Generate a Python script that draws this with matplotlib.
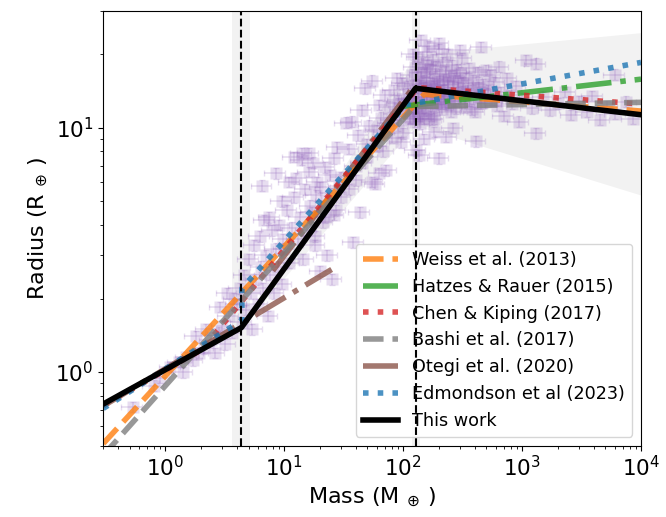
import matplotlib
matplotlib.use("Agg")
import matplotlib.pyplot as plt
import numpy as np

obs_mass = [0.53, 0.8, 0.9, 1.1, 1.3, 1.4, 1.5, 1.7, 1.8, 1.9, 2.1, 2.2, 2.4, 2.6, 2.8, 2.9,
            3.0, 3.2, 3.3, 3.4, 3.6, 3.8,
            4.0, 4.2, 4.4, 4.6, 4.8, 5.0, 5.2, 5.4, 5.6, 5.8, 6.0, 6.2, 6.4, 6.5, 6.6, 6.8,
            7.0, 7.3, 7.5, 7.6, 7.9, 8.2, 8.5, 8.5, 8.8, 9.1, 9.5, 9.5, 9.8,
            10, 10.5, 11, 11, 11.5, 12, 12, 12.6, 13, 13.5, 14, 14, 14.5, 15, 15.5, 16, 16,
            16.5, 17, 17.5, 18, 18.5, 19, 20, 20, 21, 22, 22.5, 23, 24, 25, 25, 26, 27, 28, 29,
            30, 33, 35, 37, 38, 40, 42, 43, 45, 48, 50, 52, 55, 55, 58, 60, 62, 63, 65, 68,
            70, 72, 75, 78, 80, 83, 85, 88, 90, 92, 95, 98, 100,
            105, 110, 115, 118, 120, 122, 125, 128, 130, 132, 135, 138, 140, 142, 145, 148,
            150, 152, 155, 158, 160, 163, 165, 168, 170, 173, 175, 178, 180, 183, 186, 190,
            193, 196, 200, 204, 208, 212, 216, 220, 225, 230, 235, 240, 245, 250, 256, 262,
            268, 275, 282, 290, 298, 305, 312, 320, 330, 340, 350, 360, 372, 385, 398, 410,
            412, 425, 440, 455, 470, 485, 500, 520, 540, 560, 585, 610, 640, 670, 700, 740,
            780, 830, 880, 940, 1000,
            140, 200, 165, 300, 120, 136, 128, 150, 180, 200, 260, 230,
            1080, 1300, 1300, 1200, 1500, 1700, 2000, 2300, 2600, 3000, 3500, 3900, 4500,
            5200, 6000, 6100, 7500, 8500,
            110, 125, 140, 160, 175, 190, 210, 240, 270, 310, 150, 135, 115, 100, 90, 80,
            70, 60, 50, 45, 40, 35, 30, 26, 22, 18,
            130, 145, 155, 170, 185, 200, 220, 245, 280, 330, 380, 450, 520, 600, 140, 160,
            180, 210, 250, 290, 360, 430, 125, 118, 112]
obs_radius = [0.72, 0.88, 0.95, 1.05, 1.1, 1.0, 1.15, 1.12, 1.4, 1.2, 1.25, 1.5, 1.35, 1.2, 1.45, 1.85,
              1.55, 1.3, 2.1, 1.7, 1.45, 2.0,
              1.9, 2.2, 1.6, 2.5, 1.8, 2.9, 2.1, 1.5, 3.3, 2.4, 1.9, 3.6, 2.7, 5.8, 2.2, 4.2,
              3.0, 1.7, 4.3, 2.5, 3.8, 2.1, 3.2, 6.5, 2.7, 4.0, 2.3, 5.0, 3.5,
              3.2, 4.6, 2.8, 6.0, 3.9, 5.2, 7.6, 6.2, 3.5, 4.3, 7.9, 7.4, 2.9, 5.6, 3.8, 6.6, 7.9,
              4.8, 4.5, 7.2, 3.3, 5.3, 6.0, 5.7, 2.6, 4.1, 6.9, 5.0, 3.0, 6.4, 5.4, 2.4, 7.5, 4.6, 8.3, 5.8,
              6.3, 10.5, 8.2, 10.6, 3.4, 7.0, 9.3, 4.5, 11.8, 14.5, 8.6, 10.2, 15.6, 6.0, 5.9, 9.8, 12.4, 6.5, 11.0, 8.0,
              13.6, 6.7, 10.5, 12.2, 9.1, 14.3, 11.4, 16.0, 10.2, 13.0, 8.7, 15.2, 11.7,
              12.5, 14.8, 10.9, 16.5, 13.2, 11.8, 17.8, 15.1, 12.2, 19.5, 13.9, 10.4, 16.2, 14.5, 12.8, 18.3,
              15.6, 11.5, 13.4, 20.5, 16.9, 14.1, 12.0, 17.4, 15.2, 10.8, 13.7, 19.0, 16.0, 14.8, 12.6, 17.9,
              15.5, 13.1, 21.0, 16.6, 14.3, 11.9, 18.6, 15.8, 13.5, 17.0, 20.0, 14.9, 12.4, 16.3, 18.1, 14.0,
              15.9, 12.9, 17.3, 14.6, 16.8, 13.2, 19.2, 15.3, 12.1, 16.0, 14.2, 17.6, 13.8, 15.7, 11.6, 8.8,
              14.7, 16.9, 13.4, 21.4, 15.1, 12.7, 17.2, 14.3, 16.4, 13.0, 15.4, 12.3, 17.8, 14.0, 11.2, 15.9,
              13.6, 12.5, 14.8, 10.6, 13.2,
              22.8, 22.2, 21.5, 20.8, 20.0, 7.7, 8.1, 9.0, 9.6, 7.5, 10.0, 9.2,
              18.9, 18.3, 9.5, 12.0, 13.4, 11.8, 12.6, 14.0, 11.3, 12.9, 11.6, 13.5, 10.8,
              12.2, 16.5, 11.4, 12.8, 10.9,
              13.8, 12.9, 15.0, 13.0, 14.4, 12.2, 13.9, 15.4, 13.6, 14.1, 10.9, 11.2, 11.0, 9.5, 12.6, 10.8,
              9.6, 8.4, 7.6, 7.2, 6.1, 5.6, 5.2, 4.4, 4.3, 3.6,
              11.4, 12.0, 14.7, 11.2, 13.3, 15.0, 12.8, 13.3, 12.0, 13.7, 11.9, 12.6, 13.8, 12.9, 16.8, 18.0,
              10.9, 12.5, 11.6, 15.5, 12.9, 14.6, 10.6, 12.0, 13.1]
mass_err_frac = 0.2
radius_err_frac = 0.05

# literature mass-radius relations (vertices of the broken power laws)
weiss_m = [0.3, 150, 1e4]
weiss_r = [0.51, 13.7, 11.7]
hatzes_m = [95, 1e4]
hatzes_r = [12.2, 15.8]
chen_m = [0.3, 2.04, 132, 1e4]
chen_r = [0.73, 1.24, 14.6, 12.5]
bashi_m = [0.3, 124, 1e4]
bashi_r = [0.456, 12.2, 12.7]
otegi_rocky_m = [0.3, 25]
otegi_rocky_r = [0.727, 2.63]
otegi_vol_m = [8, 120]
otegi_vol_r = [2.6, 14.5]
edm_m = [0.3, 4.4, 4.4, 105, 1e4]
edm_r = [0.71, 1.63, 2.2, 12.4, 18.5]
this_m = [0.3, 4.35, 127, 1e4]
this_r = [0.74, 1.52, 14.5, 11.3]

# uncertainty envelope of this work
env_m = [4.35, 127, 1e4]
env_lo = [1.52, 10.2, 5.3]
env_hi = [1.52, 20.0, 24.5]

breaks = [4.35, 127]
break_lo = [3.6, 118]
break_hi = [5.15, 138]

fig = plt.figure(figsize=(6.66, 5.17), dpi=100)
ax = fig.add_axes([0.155, 0.138, 0.8075, 0.8405])

for lo, hi in zip(break_lo, break_hi):
    ax.axvspan(lo, hi, color='gray', alpha=0.1, lw=0, zorder=0)
ax.fill_between(env_m, env_lo, env_hi, color='gray', alpha=0.1, lw=0, zorder=0)

xerr = [m * mass_err_frac for m in obs_mass]
yerr = [r * radius_err_frac for r in obs_radius]
ax.errorbar(obs_mass, obs_radius, xerr=xerr, yerr=yerr, fmt='s', color='tab:purple',
            ms=8.5, mec='none', elinewidth=1.2, capsize=2, alpha=0.22, zorder=1)

lw = 4
ax.plot(weiss_m, weiss_r, '--', color='tab:orange', lw=lw, alpha=0.8, label='Weiss et al. (2013)')
ax.plot(hatzes_m, hatzes_r, '-.', color='tab:green', lw=lw, alpha=0.8, label='Hatzes & Rauer (2015)')
ax.plot(chen_m, chen_r, ':', color='tab:red', lw=lw, alpha=0.8, label='Chen & Kiping (2017)')
ax.plot(bashi_m, bashi_r, '--', color='tab:gray', lw=lw, alpha=0.8, label='Bashi et al. (2017)')
ax.plot(otegi_rocky_m, otegi_rocky_r, '-.', color='tab:brown', lw=lw, alpha=0.8, label='Otegi et al. (2020)')
ax.plot(otegi_vol_m, otegi_vol_r, '-.', color='tab:brown', lw=lw, alpha=0.8, zorder=1.5)
ax.plot(edm_m, edm_r, ':', color='tab:blue', lw=lw, alpha=0.8, label='Edmondson et al (2023)')
ax.plot(this_m, this_r, '-', color='black', lw=lw, label='This work')

for b in breaks:
    ax.axvline(b, color='black', ls='--', lw=1.5, zorder=6)

ax.set_xscale('log')
ax.set_yscale('log')
ax.set_xlim(0.3, 1e4)
ax.set_ylim(0.5, 30)
ax.set_xlabel(r'Mass (M$_{\;\oplus\;}$)', fontsize=16)
ax.set_ylabel(r'Radius (R$_{\;\oplus\;}$)', fontsize=16)
ax.tick_params(axis='both', which='major', labelsize=15.5)
ax.legend(loc='lower right', fontsize=12.7)

fig.savefig('out.png', dpi=100)
